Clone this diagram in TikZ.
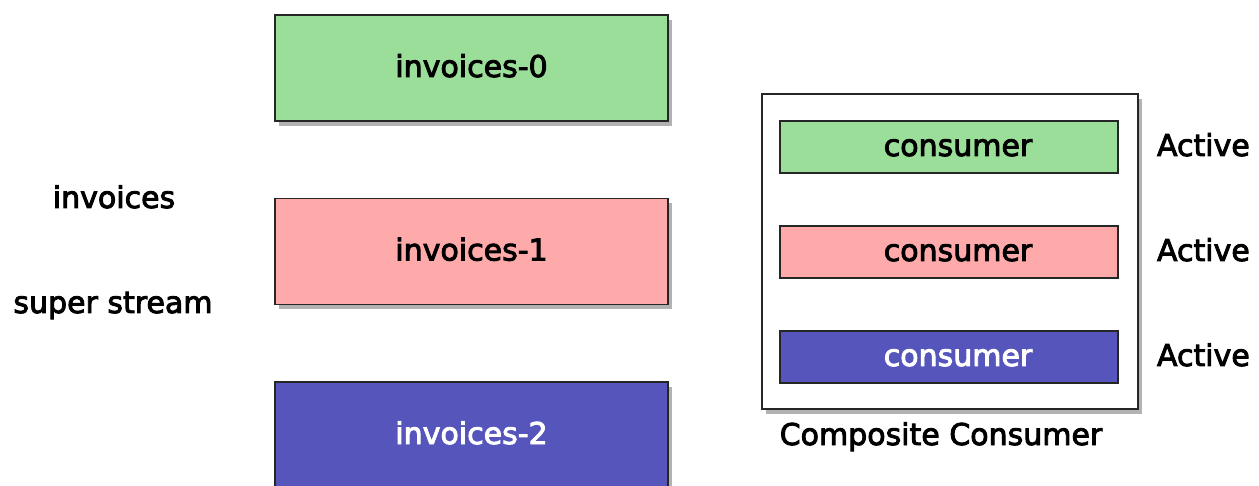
\documentclass[tikz,border=0pt]{standalone}
\usepackage{fontspec}
\setmainfont{DejaVu Sans}[FakeBold=3, AutoFakeBold=false]
\usetikzlibrary{shadows}
\definecolor{partgreen}{HTML}{9ADE9A}
\definecolor{partred}{HTML}{FFAAAA}
\definecolor{partblue}{HTML}{5555BB}

\begin{document}
\begin{tikzpicture}[x=1pt, y=-1pt,
  every node/.style={outer sep=0pt, inner sep=0pt, text height=18pt, text depth=0pt,
    font=\fontsize{30}{36}\selectfont},
  every label/.style={outer sep=0pt, inner sep=0pt, text height=18pt, text depth=0pt,
    font=\fontsize{30}{36}\selectfont},
  shade/.style={drop shadow={shadow xshift=4pt, shadow yshift=-5pt, fill=black, opacity=0.3}},
  part/.style={draw=black!85, line width=1.3pt, minimum width=393pt, minimum height=106pt, shade},
  cons/.style={draw=black!85, line width=1.3pt, minimum width=338pt, minimum height=52pt}]
\useasboundingbox (0,0) rectangle (1259,486);
\clip (0,0) rectangle (1259,486);

\node[part, fill=partgreen] (part0) at (471.5,68) {invoices-0};
\node[part, fill=partred] (part1) at (471.5,251.5) {invoices-1};
\node[part, fill=partblue, text=white] (part2) at (471.5,435) {invoices-2};

\node (streamname) at (114,199) {invoices};
\node (streamkind) at (113,304) {super stream};

\node[draw=black!85, line width=1.3pt, fill=white, minimum width=376pt, minimum height=315pt, shade] (composite) at (950,251.5) {};
\node[cons, fill=partgreen, label={[xshift=9pt]center:consumer}] (cons0) at (949,147) {};
\node[cons, fill=partred, label={[xshift=9pt]center:consumer}] (cons1) at (949,252) {};
\node[cons, fill=partblue, label={[xshift=9pt, text=white]center:consumer}] (cons2) at (949,357) {};

\node[anchor=west] (active0) at (1157,147) {Active};
\node[anchor=west] (active1) at (1157,252) {Active};
\node[anchor=west] (active2) at (1157,357) {Active};

\node (compositelabel) at (941,436) {Composite Consumer};
\end{tikzpicture}
\end{document}
